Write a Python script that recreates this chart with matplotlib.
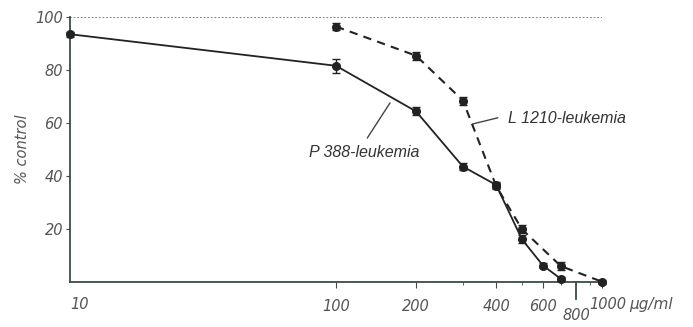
import matplotlib
matplotlib.use("Agg")
import matplotlib.pyplot as plt
import numpy as np

# Data
conc_p388 = [10, 100, 200, 300, 400, 500, 600, 700]
p388 = [93.4, 81.5, 64.3, 43.5, 36.6, 16.1, 6.2, 1.2]
p388_err = [1.0, 2.6, 1.5, 1.2, 1.0, 1.5, 0.8, 0.8]

conc_l1210 = [100, 200, 300, 400, 500, 700, 1000]
l1210 = [96.3, 85.3, 68.4, 36.2, 19.9, 6.0, 0.1]
l1210_err = [1.5, 1.5, 1.5, 1.0, 1.5, 1.5, 0.8]

xticks_major = [100, 200, 400, 600, 1000]
xtick_labels = ["100", "200", "400", "600", ""]
xticks_minor = [300, 500, 700, 900]
yticks = [20, 40, 60, 80, 100]

axis_col = "#3b4b4b"
lab_col = "#555555"
line_col = "#222222"
fs = 10.5

fig = plt.figure(figsize=(6.93, 3.27), dpi=100)
ax = fig.add_axes([70/693, 1-282/327, (602-70)/693, (282-16.7)/327])
ax.set_xscale("log")
ax.set_xlim(10, 1000)
ax.set_ylim(0, 100)

ax.axhline(100, color="#777777", ls=(0, (1, 1)), lw=1.3, zorder=1)

ax.errorbar(conc_p388, p388, yerr=p388_err, color=line_col, lw=1.3, marker="o",
            ms=5.5, mfc=line_col, mec=line_col, capsize=3, elinewidth=1, clip_on=False, zorder=3)
ax.errorbar(conc_l1210, l1210, yerr=l1210_err, color=line_col, lw=1.5, ls=(0, (4, 3)), marker="o",
            ms=5.5, mfc=line_col, mec=line_col, capsize=3, elinewidth=1, clip_on=False, zorder=3)

for s in ["top", "right"]:
    ax.spines[s].set_visible(False)
for s in ["left", "bottom"]:
    ax.spines[s].set_color(axis_col)
    ax.spines[s].set_linewidth(1.3)

ax.set_yticks(yticks)
ax.set_yticklabels([str(v) for v in yticks], fontstyle="italic", color=lab_col, fontsize=fs)
ax.tick_params(axis="y", direction="out", length=3, color=axis_col, pad=2)

ax.set_xticks(xticks_major)
ax.set_xticklabels(xtick_labels, fontstyle="italic", color=lab_col, fontsize=fs)
ax.set_xticks(xticks_minor + [800], minor=True)
ax.set_xticklabels([], minor=True)
ax.tick_params(axis="x", which="major", direction="out", length=4, color=axis_col, pad=8)
ax.tick_params(axis="x", which="minor", direction="out", length=2, color=axis_col)

# 10 label at origin, 1000 label, long 800 tick
ax.text(10, -8.3, "10", ha="left", va="center", fontstyle="italic", color=lab_col, fontsize=fs)
ax.text(1050, -8.3, "1000", ha="center", va="center", fontstyle="italic", color=lab_col, fontsize=fs)
ax.plot([800, 800], [0, -6.5], color=axis_col, lw=1.3, clip_on=False)
ax.text(800, -12.5, "800", ha="center", va="center", fontstyle="italic", color=lab_col, fontsize=fs)
ax.text(1265, -8.3, "µg/ml", ha="left", va="center", fontstyle="italic", color=lab_col, fontsize=fs+0.5)

ax.set_ylabel("% control", fontstyle="italic", color=lab_col, fontsize=fs, labelpad=4)

# annotations
ax.annotate("P 388-leukemia", xy=(159.6, 67.5), xytext=(127.4, 48.9),
            ha="center", va="center", fontsize=11.5, fontstyle="italic",
            family="Liberation Sans", color="#333333",
            arrowprops=dict(arrowstyle="-", color="#444444", lw=1,
                            shrinkA=0, shrinkB=0, relpos=(0.53, 1.45)))
ax.annotate("", xy=(327.5, 59.6), xytext=(406, 61.9),
            arrowprops=dict(arrowstyle="-", color="#444444", lw=1, shrinkA=0, shrinkB=0))
ax.text(443.6, 61.8, "L 1210-leukemia", ha="left", va="center", fontsize=11.5,
        fontstyle="italic", family="Liberation Sans", color="#333333")

fig.savefig("out.png", dpi=100)
